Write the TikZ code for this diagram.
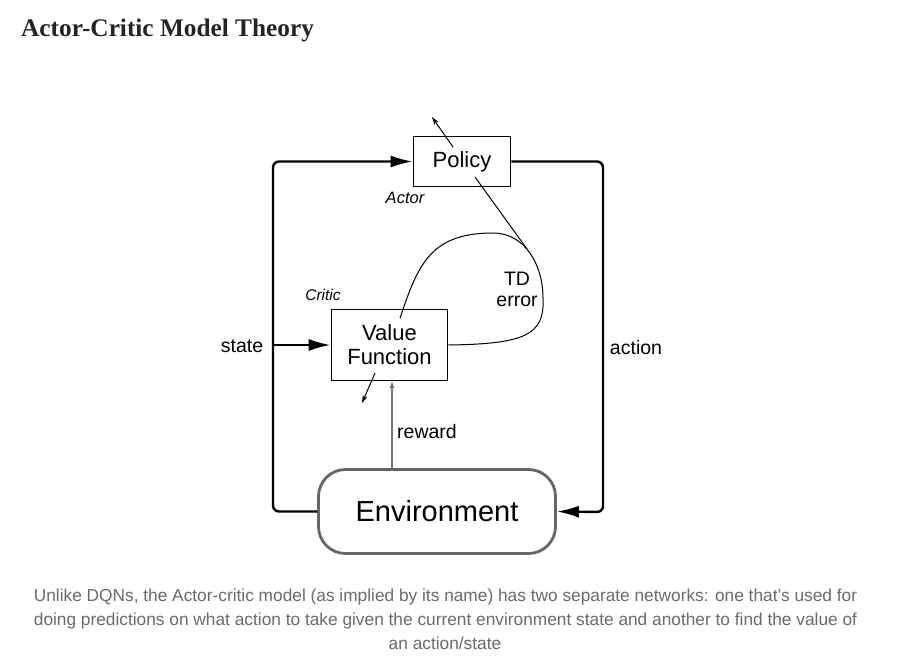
\documentclass[tikz,border=0pt]{standalone}
\usepackage{fontspec}
\setmainfont{Liberation Sans}
\newfontfamily\titlefont{Liberation Serif}
\usetikzlibrary{arrows.meta}
\definecolor{captiongray}{HTML}{6B6B6B}
\definecolor{titleblack}{HTML}{242424}
\begin{document}
\begin{tikzpicture}[x=1pt,y=-1pt,
  lbl/.style={font=\fontsize{19.5}{22}\selectfont, inner sep=0pt},
  ital/.style={inner sep=0pt},
  boxnode/.style={draw, line width=1.6pt, inner sep=0pt, font=\fontsize{22}{24}\selectfont},
  mainline/.style={line width=2.4pt, rounded corners=6pt},
  bigtip/.style={-{Latex[length=22pt,width=12pt]}},
  thinline/.style={line width=1pt},
  smalltip/.style={-{Stealth[length=8pt,width=5pt]}},
  captxt/.style={anchor=base, inner sep=0pt, text=captiongray, font=\fontsize{17.3}{20}\selectfont}]
\useasboundingbox[fill=white] (0,0) rectangle (907,661);

% title
\node[anchor=base west, inner sep=0pt, text=titleblack, font=\titlefont\bfseries\fontsize{25.3}{28}\selectfont] (title) at (21,37) {Actor-Critic Model Theory};

% boxes
\node[boxnode, minimum width=97pt, minimum height=50pt] (policy) at (462,161.5) {Policy};
\node[boxnode, minimum width=116pt, minimum height=71pt, align=center] (value) at (389.5,345) {Value\\Function};
\node[draw=black!60, line width=2.8pt, rounded corners=27pt, minimum width=237pt, minimum height=84pt, inner sep=0pt, font=\fontsize{29}{32}\selectfont] (env) at (437,511.5) {Environment};

% coordinates
\coordinate (lt) at (273,161.5);
\coordinate (lb) at (273,511.5);
\coordinate (rt) at (603,161.5);
\coordinate (rb) at (603,512);
\coordinate (sj) at (273,345);
\coordinate (rwbot) at (392,468);
\coordinate (rwtop) at (392,381);
\coordinate (pin) at (475,177);
\coordinate (tdj) at (527,249);
\coordinate (vin) at (400,318);
\coordinate (pa1) at (453,147);
\coordinate (pa2) at (432,117);
\coordinate (va1) at (375,373);
\coordinate (va2) at (362,403);

% main loop
\draw[mainline, bigtip] (env.west) -- (lb) -- (lt) -- (policy.west);
\draw[mainline, bigtip] (policy.east) -- (rt) -- (rb) -- (env.east);
\draw[line width=2.4pt, bigtip] (sj) -- (value.west);

% reward
\draw[line width=1.2pt, black!55, -{Latex[length=7pt,width=5pt]}] (rwbot) -- (rwtop);

% TD error curve
\draw[thinline] (value.east) .. controls (525,344) and (545,335) .. (543,298)
  .. controls (543,265) and (525,233) .. (493,233)
  .. controls (430,233) and (418,265) .. (vin);
\draw[thinline] (pin) -- (tdj);

% small arrows
\draw[thinline, smalltip] (pa1) -- (pa2);
\draw[thinline, smalltip] (va1) -- (va2);

% labels
\node[ital, font=\fontsize{16.5}{18}\selectfont\itshape] (actor) at (405,198) {Actor};
\node[ital, font=\fontsize{15.5}{18}\selectfont\itshape] (critic) at (323,295) {Critic};
\node[lbl] (td) at (517,279) {TD};
\node[lbl] (err) at (517,301) {error};
\node[lbl] (state) at (242,346) {state};
\node[lbl] (action) at (636,348) {action};
\node[lbl] (reward) at (427,432) {reward};

% caption
\node[captxt] (cap1) at (445.5,601) {Unlike DQNs, the Actor-critic model (as implied by its name) has two separate networks: one that’s used for};
\node[captxt] (cap2) at (445.5,625.5) {doing predictions on what action to take given the current environment state and another to find the value of};
\node[captxt] (cap3) at (445,649) {an action/state};
\end{tikzpicture}
\end{document}
